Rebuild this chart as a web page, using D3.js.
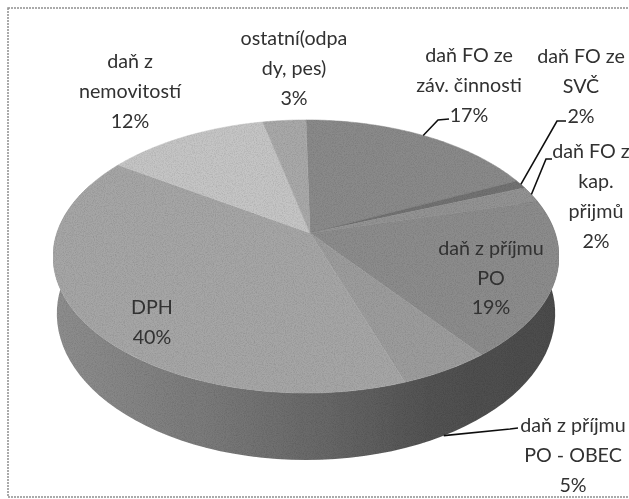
<!DOCTYPE html>
<html>
<head>
<meta charset="utf-8">
<script src="https://cdn.jsdelivr.net/npm/d3@7"></script>
<style>
  html, body { margin: 0; padding: 0; background: #fff; overflow: hidden; }
  text { font-family: Lato, "Open Sans", sans-serif; font-size: 19.7px; fill: #303030; text-anchor: middle; }
</style>
</head>
<body>
<div class="pieChart"></div>
<script>
// Chart data: slice sizes as measured on the picture, the printed percentages are in labelLines
const categories = ["daň FO ze záv. činnosti", "daň FO ze SVČ", "daň FO z kap. příjmů", "daň z příjmu PO",
                    "daň z příjmu PO - OBEC", "DPH", "daň z nemovitostí", "ostatní(odpady, pes)"];
const shares = [18.1, 1, 1.9, 18.6, 5, 39.9, 12.25, 3.25];
const topColors = ["#8a8a8a", "#727272", "#939393", "#8c8c8c", "#9c9c9c", "#a6a6a6", "#c5c5c5", "#a9a9a9"];

// Wrapped label text, same order as categories
const labelLines = [
    ["daň FO ze", "záv. činnosti", "17%"],
    ["daň FO ze", "SVČ", "2%"],
    ["daň FO z", "kap.", "přijmů", "2%"],
    ["daň z příjmu", "PO", "19%"],
    ["daň z příjmu", "PO - OBEC", "5%"],
    ["DPH", "40%"],
    ["daň z", "nemovitostí", "12%"],
    ["ostatní(odpa", "dy, pes)", "3%"]
];
// Label layout: centre x, first baseline y, line height, shift of the first line
const labelX = [469, 581, 596, 491, 573, 152, 130, 294];
const labelY = [62, 63, 158, 255, 432, 314, 68, 45];
const labelGap = [30, 30, 30, 29.5, 30, 30, 30, 30];
const firstLineShift = [0, 0, -5, 0, 0, 0, 0, 0];
// Leader elbows: [elbow, end] per labelled slice, null where there is no leader
const leaderElbows = [
    [[438, 120], [449, 119]],
    [[557, 121], [566, 121]],
    [[546, 159], [552, 159]],
    null,
    [[510, 429], [518, 428]],
    null, null, null
];

const width = 629, height = 499;

// Perspective of the tilted disc: the apex sits above the middle of the visible ellipse
const apex = {x: 310, y: 233};
const rimX = 306;
const scaleX = 249.2, scaleY = 132.5, tilt = 0.172, depth = 55.5;

function project(angle, radius, drop) {
    let px = Math.sin(angle) * radius,
        py = -Math.cos(angle) * radius,
        w = 1 - tilt * py,
        shrink = 1 - 0.015 * drop / depth; // the lower rim is a bit further away
    return [rimX + scaleX * shrink * px / w, apex.y + (scaleY * py + drop) / w];
}

// Sample a rim between two angles
function rim(a0, a1, drop) {
    return d3.range(0, 81).map(i => project(a0 + (a1 - a0) * i / 80, 1, drop));
}

const pie = d3.pie().sort(null).value(d => d);
const slices = pie(shares);
const line = d3.line();

const svg = d3.select(".pieChart").append("svg")
    .attr("width", width)
    .attr("height", height);

const defs = svg.append("defs");
const wallGrad = defs.append("linearGradient")
    .attr("id", "wallGrad")
    .attr("gradientUnits", "userSpaceOnUse")
    .attr("x1", 56).attr("x2", 558).attr("y1", 0).attr("y2", 0);
[[0, "#8e8e8e"], [0.3, "#7a7a7a"], [0.55, "#666666"], [0.75, "#525252"], [1, "#4c4c4c"]].forEach(s => {
    wallGrad.append("stop").attr("offset", s[0]).attr("stop-color", s[1]);
});
// Soft scanned look
defs.append("filter").attr("id", "soft")
    .append("feGaussianBlur").attr("stdDeviation", 0.45);
// Paper grain on the pie
const grain = defs.append("filter").attr("id", "grain")
    .attr("x", 0).attr("y", 0).attr("width", 1).attr("height", 1);
grain.append("feTurbulence")
    .attr("type", "fractalNoise").attr("baseFrequency", 0.9).attr("numOctaves", 2).attr("seed", 4)
    .attr("result", "noise");
grain.append("feColorMatrix")
    .attr("in", "noise").attr("type", "matrix")
    .attr("values", "0 0 0 0 0  0 0 0 0 0  0 0 0 0 0  0.5 0 0 0 -0.2")
    .attr("result", "specks");
grain.append("feComposite")
    .attr("in", "specks").attr("in2", "SourceAlpha").attr("operator", "in")
    .attr("result", "clipped");
const grainMerge = grain.append("feMerge");
grainMerge.append("feMergeNode").attr("in", "SourceGraphic");
grainMerge.append("feMergeNode").attr("in", "clipped");

const chart = svg.append("g").attr("filter", "url(#soft)");

// Frame of the scanned chart
chart.append("rect")
    .attr("x", 8).attr("y", 8)
    .attr("width", 640).attr("height", 489)
    .attr("fill", "#fff")
    .attr("stroke", "#8f8f8f")
    .attr("stroke-width", 1.5)
    .attr("stroke-dasharray", "2 1");

const pieGroup = chart.append("g").attr("filter", "url(#grain)");

// Side wall, one piece along the front of the disc
pieGroup.append("path")
    .attr("fill", "url(#wallGrad)")
    .attr("d", line(rim(Math.PI / 2 - 0.4, 3 * Math.PI / 2 + 0.4, 0)
        .concat(rim(3 * Math.PI / 2 + 0.4, Math.PI / 2 - 0.4, depth))) + "Z");

// Top faces
pieGroup.append("g").selectAll("path")
    .data(slices)
    .enter()
    .append("path")
    .attr("fill", (d, i) => topColors[i])
    .attr("stroke", (d, i) => topColors[i])
    .attr("stroke-width", 0.5)
    .attr("d", d => line([[apex.x, apex.y]].concat(rim(d.startAngle, d.endAngle, 0))) + "Z");

// Leader lines
chart.append("g").selectAll("path")
    .data(slices.filter((d, i) => leaderElbows[i]))
    .enter()
    .append("path")
    .attr("fill", "none")
    .attr("stroke", "#111")
    .attr("stroke-width", 1.6)
    .attr("d", d => {
        let mid = (d.startAngle + d.endAngle) / 2,
            // the 5% leader starts on the lower rim, the others on the top rim
            start = project(mid, 1, d.index === 4 ? depth : 0);
        return line([start].concat(leaderElbows[d.index]));
    });

// Labels
const labels = chart.append("g").selectAll("text")
    .data(labelLines)
    .enter()
    .append("text")
    .attr("aria-label", (d, i) => categories[i]);
labels.selectAll("tspan")
    .data((d, i) => d.map((t, j) => ({
        t: t,
        x: labelX[i] + (j === 0 ? firstLineShift[i] : 0),
        y: labelY[i] + j * labelGap[i]
    })))
    .enter()
    .append("tspan")
    .attr("x", d => d.x)
    .attr("y", d => d.y)
    .text(d => d.t);
</script>
</body>
</html>
